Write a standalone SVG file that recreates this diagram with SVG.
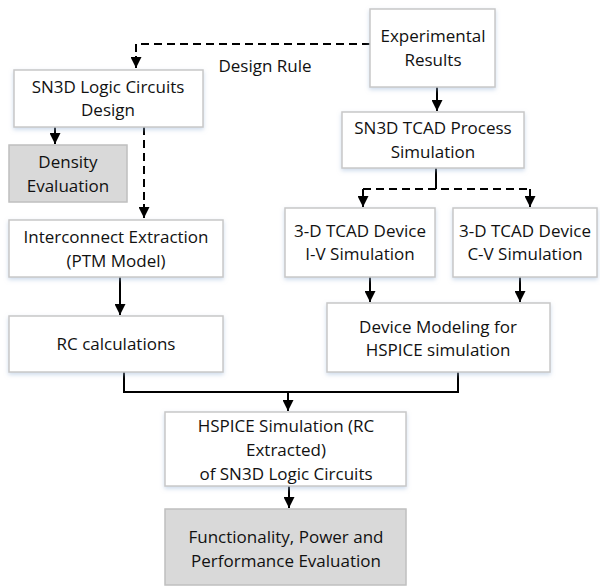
<svg xmlns="http://www.w3.org/2000/svg" width="600" height="587" viewBox="0 0 600 587">
<defs>
<marker id="ah" viewBox="0 0 10 10" refX="10" refY="5" markerWidth="5.5" markerHeight="5.5" orient="auto" markerUnits="strokeWidth">
<path d="M0,0 L10,5 L0,10 z" fill="#000"/>
</marker>
<filter id="sh" x="-10%" y="-10%" width="120%" height="130%">
<feDropShadow dx="0" dy="2" stdDeviation="2" flood-color="#9db8d8" flood-opacity="0.5"/>
</filter>
</defs>
<style>
.box{fill:#fff;stroke:#c8c8c8;stroke-width:1.5;filter:url(#sh)}
.gray{fill:#d9d9d9;stroke:#bfbfbf;stroke-width:1.5}
.t{font-family:"Open Sans","Liberation Sans",sans-serif;font-size:17px;fill:#111;text-anchor:middle}
.c{fill:none;stroke:#000;stroke-width:2}
.d{stroke-dasharray:8,5}
.a{marker-end:url(#ah)}
</style>
<rect width="600" height="587" fill="#fff"/>
<g id="connectors">
<path class="c d" d="M370,44 H136 V56"/>
<path class="c a" d="M136,56 V68"/>
<path class="c a" d="M55,127 V144"/>
<path class="c d" d="M144,127 V206"/>
<path class="c a" d="M144,204 V218"/>
<path class="c a" d="M120,277 V315"/>
<path class="c a" d="M437,87 V111"/>
<path class="c" d="M436,168 V189"/>
<path class="c d" d="M363,189 H530"/>
<path class="c a" d="M363,189 V207"/>
<path class="c a" d="M530,189 V207"/>
<path class="c a" d="M370,277 V302"/>
<path class="c a" d="M520,277 V302"/>
<path class="c" d="M124,372 V392 H458 V372"/>
<path class="c a" d="M288,392 V411"/>
<path class="c a" d="M289,486 V508"/>
<text class="t" x="265" y="72">Design Rule</text>
</g>
<g id="experimental"><rect class="box" x="370" y="9" width="125" height="78"/><text class="t" x="433" y="42">Experimental</text><text class="t" x="433" y="66">Results</text></g>
<g id="logic-design"><rect class="box" x="14" y="70" width="189" height="57"/><text class="t" x="108" y="93">SN3D Logic Circuits</text><text class="t" x="108" y="116">Design</text></g>
<g id="density"><rect class="gray" x="9" y="145" width="118" height="57"/><text class="t" x="68" y="168">Density</text><text class="t" x="68" y="192">Evaluation</text></g>
<g id="interconnect"><rect class="box" x="9" y="220" width="214" height="57"/><text class="t" x="116" y="243">Interconnect Extraction</text><text class="t" x="116" y="267">(PTM Model)</text></g>
<g id="rc"><rect class="box" x="9" y="316" width="214" height="56"/><text class="t" x="116" y="350">RC calculations</text></g>
<g id="tcad-process"><rect class="box" x="342" y="112" width="182" height="56"/><text class="t" x="433" y="134">SN3D TCAD Process</text><text class="t" x="433" y="158">Simulation</text></g>
<g id="iv"><rect class="box" x="285" y="208" width="150" height="69"/><text class="t" x="360" y="237">3-D TCAD Device</text><text class="t" x="360" y="260">I-V Simulation</text></g>
<g id="cv"><rect class="box" x="453" y="208" width="144" height="69"/><text class="t" x="525" y="237">3-D TCAD Device</text><text class="t" x="525" y="260">C-V Simulation</text></g>
<g id="device-modeling"><rect class="box" x="327" y="303" width="223" height="69"/><text class="t" x="438" y="333">Device Modeling for</text><text class="t" x="438" y="356">HSPICE simulation</text></g>
<g id="hspice"><rect class="box" x="165" y="412" width="241" height="74"/><text class="t" x="286" y="432">HSPICE Simulation (RC</text><text class="t" x="286" y="456">Extracted)</text><text class="t" x="286" y="480">of SN3D Logic Circuits</text></g>
<g id="evaluation"><rect class="gray" x="165" y="509" width="241" height="76"/><text class="t" x="286" y="543">Functionality, Power and</text><text class="t" x="286" y="567">Performance Evaluation</text></g>
</svg>
